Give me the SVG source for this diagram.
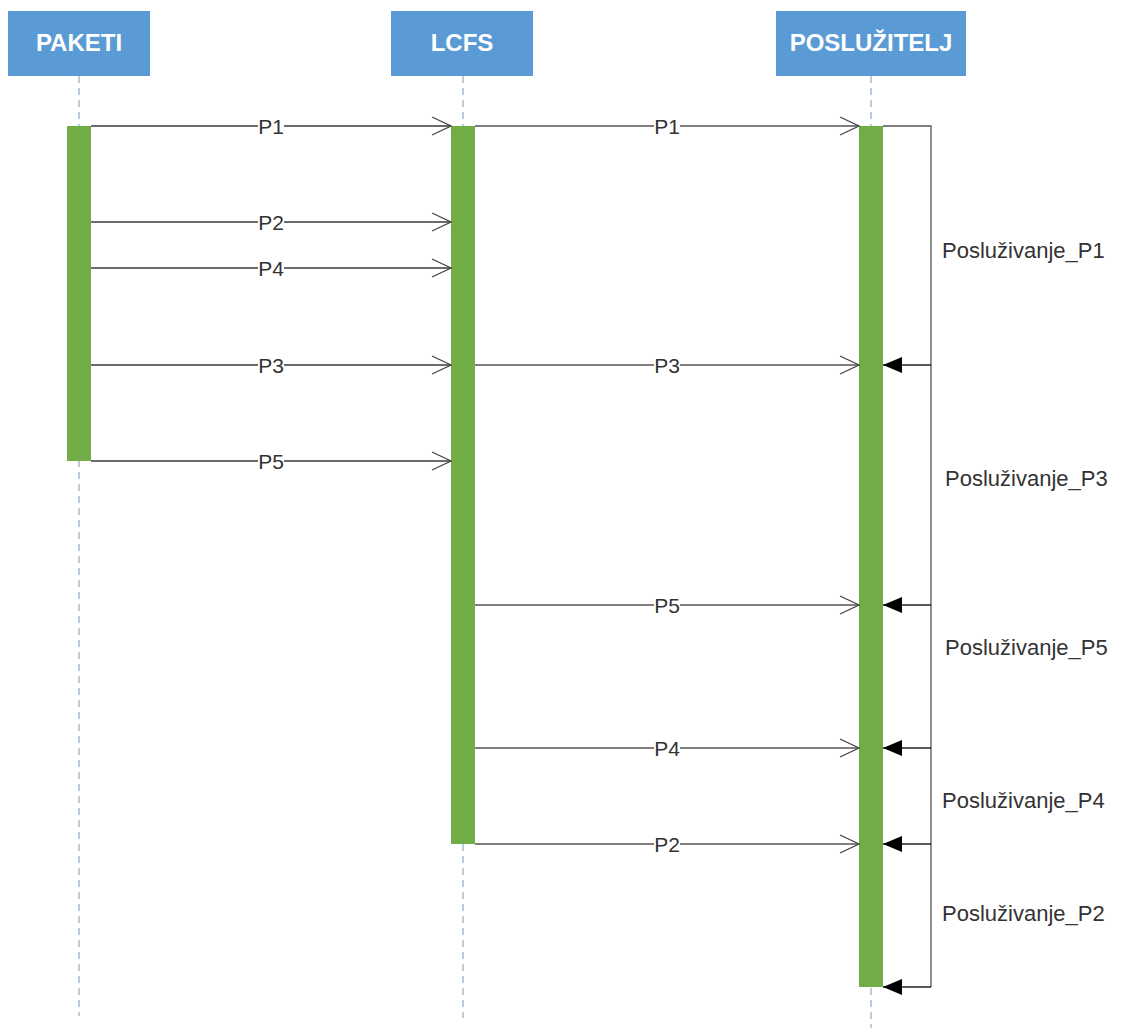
<svg xmlns="http://www.w3.org/2000/svg" width="1124" height="1028" viewBox="0 0 1124 1028">
<style>
.hdr{fill:#5b9bd5}
.hdrt{font-family:"Liberation Sans",Arial,sans-serif;font-weight:bold;font-size:24px;fill:#fff;text-anchor:middle}
.life{stroke:#8ea9c9;stroke-width:1.2;stroke-dasharray:7,5;fill:none}
.act{fill:#70ad47}
.msg{stroke:#3a3a3a;stroke-width:1.3;fill:none}
.msg2{stroke:#555;stroke-width:1.3;fill:none}
.ret{stroke:#222;stroke-width:1.5;fill:none}
.lbl{font-family:"Liberation Sans",Arial,sans-serif;font-size:21px;fill:#333;text-anchor:middle}
.slbl{font-family:"Liberation Sans",Arial,sans-serif;font-size:22px;fill:#333}
.bg{fill:#fff}
</style>
<defs>
<marker id="open" markerWidth="22" markerHeight="22" refX="20" refY="10" orient="auto" markerUnits="userSpaceOnUse">
<path d="M1,1 L20,10 L1,19" fill="none" stroke="#444" stroke-width="1.3"/>
</marker>
<marker id="filled" markerWidth="22" markerHeight="20" refX="19" refY="8" orient="auto" markerUnits="userSpaceOnUse">
<path d="M0,0 L19,8 L0,16 Z" fill="#000"/>
</marker>
</defs>
<rect width="1124" height="1028" fill="#fff"/>
<g id="lifelines">
<line class="life" x1="79" y1="76" x2="79" y2="1016"/>
<line class="life" x1="463" y1="76" x2="463" y2="1018"/>
<line class="life" x1="871" y1="76" x2="871" y2="1028"/>
</g>
<g id="paketi">
<rect class="hdr" x="8" y="11" width="142" height="65"/>
<text class="hdrt" x="79" y="51">PAKETI</text>
<rect class="act" x="67" y="126" width="24" height="335"/>
</g>
<g id="lcfs">
<rect class="hdr" x="391" y="11" width="142" height="65"/>
<text class="hdrt" x="462" y="51">LCFS</text>
<rect class="act" x="451" y="126" width="24" height="718"/>
</g>
<g id="posluzitelj">
<rect class="hdr" x="776" y="11" width="190" height="65"/>
<text class="hdrt" x="871" y="51">POSLUŽITELJ</text>
<rect class="act" x="859" y="126" width="24" height="861"/>
</g>
<g id="connectors">
<line class="msg" x1="91" y1="126" x2="451" y2="126" marker-end="url(#open)"/>
<line class="msg" x1="91" y1="222" x2="451" y2="222" marker-end="url(#open)"/>
<line class="msg" x1="91" y1="268" x2="451" y2="268" marker-end="url(#open)"/>
<line class="msg" x1="91" y1="365" x2="451" y2="365" marker-end="url(#open)"/>
<line class="msg" x1="91" y1="461" x2="451" y2="461" marker-end="url(#open)"/>
<line class="msg2" x1="475" y1="126" x2="859" y2="126" marker-end="url(#open)"/>
<line class="msg2" x1="475" y1="365" x2="859" y2="365" marker-end="url(#open)"/>
<line class="msg2" x1="475" y1="605" x2="859" y2="605" marker-end="url(#open)"/>
<line class="msg2" x1="475" y1="748" x2="859" y2="748" marker-end="url(#open)"/>
<line class="msg2" x1="475" y1="844" x2="859" y2="844" marker-end="url(#open)"/>
<polyline class="msg2" points="883,126 931,126 931,987"/>
<line class="ret" x1="931" y1="365" x2="883" y2="365" marker-end="url(#filled)"/>
<line class="ret" x1="931" y1="605" x2="883" y2="605" marker-end="url(#filled)"/>
<line class="ret" x1="931" y1="748" x2="883" y2="748" marker-end="url(#filled)"/>
<line class="ret" x1="931" y1="844" x2="883" y2="844" marker-end="url(#filled)"/>
<line class="ret" x1="931" y1="987" x2="883" y2="987" marker-end="url(#filled)"/>
</g>
<g id="labels">
<rect class="bg" x="258" y="116" width="26" height="20"/><text class="lbl" x="271" y="134">P1</text>
<rect class="bg" x="258" y="212" width="26" height="20"/><text class="lbl" x="271" y="230">P2</text>
<rect class="bg" x="258" y="258" width="26" height="20"/><text class="lbl" x="271" y="276">P4</text>
<rect class="bg" x="258" y="355" width="26" height="20"/><text class="lbl" x="271" y="373">P3</text>
<rect class="bg" x="258" y="451" width="26" height="20"/><text class="lbl" x="271" y="469">P5</text>
<rect class="bg" x="654" y="116" width="26" height="20"/><text class="lbl" x="667" y="134">P1</text>
<rect class="bg" x="654" y="355" width="26" height="20"/><text class="lbl" x="667" y="373">P3</text>
<rect class="bg" x="654" y="595" width="26" height="20"/><text class="lbl" x="667" y="613">P5</text>
<rect class="bg" x="654" y="738" width="26" height="20"/><text class="lbl" x="667" y="756">P4</text>
<rect class="bg" x="654" y="834" width="26" height="20"/><text class="lbl" x="667" y="852">P2</text>
<text class="slbl" x="942" y="258">Posluživanje_P1</text>
<text class="slbl" x="945" y="486">Posluživanje_P3</text>
<text class="slbl" x="945" y="655">Posluživanje_P5</text>
<text class="slbl" x="942" y="808">Posluživanje_P4</text>
<text class="slbl" x="942" y="921">Posluživanje_P2</text>
</g>
</svg>
